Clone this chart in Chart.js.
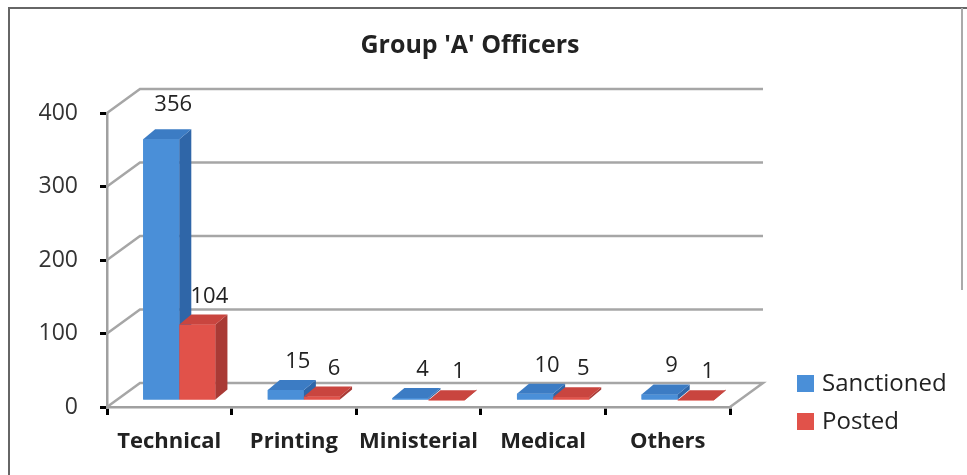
<!DOCTYPE html>
<html>
<head>
<meta charset="utf-8">
<script src="https://cdn.jsdelivr.net/npm/chart.js@4.4.0/dist/chart.umd.min.js"></script>
<style>
  html, body { margin: 0; padding: 0; background: #fff; }
  #wrap { width: 967px; height: 475px; }
</style>
</head>
<body>
<div id="wrap"><canvas id="myChart" width="967" height="475"></canvas></div>
<script>
const ctx = document.getElementById('myChart').getContext('2d')

const categories = ['Technical', 'Printing', 'Ministerial', 'Medical', 'Others']
const sanctioned = [356, 15, 4, 10, 9]
const posted = [104, 6, 1, 5, 1]
const yTicks = [0, 100, 200, 300, 400]

// colours: front, side, top
const blue = ['#4a8fd8', '#2f66a8', '#3c7cc4']
const red = ['#e1524a', '#a93a35', '#c9453f']

// 3d depth of the walls and of the bars
const wall = { dx: 33, dy: -24 }
const bar = { dx: 12, dy: -10, shiftX: 10, shiftY: -6 }

const FONT = '"Open Sans", "Liberation Sans", sans-serif'

const frame3d = {
    id: 'frame3d',
    beforeDraw(chart) {
        const c = chart.ctx
        c.save()
        c.fillStyle = '#fff'
        c.fillRect(0, 0, chart.width, chart.height)
        c.strokeStyle = '#666'
        c.lineWidth = 2
        c.beginPath()
        c.moveTo(9, chart.height)
        c.lineTo(9, 8)
        c.lineTo(chart.width, 8)
        c.stroke()
        c.strokeStyle = '#aaa'
        c.beginPath()
        c.moveTo(962, 8)
        c.lineTo(962, 290)
        c.stroke()
        c.restore()
    },
    beforeDatasetsDraw(chart) {
        const c = chart.ctx
        const { left, right } = chart.chartArea
        const y = chart.scales.y
        c.save()
        c.strokeStyle = '#a6a6a6'
        c.lineWidth = 2.5
        yTicks.forEach(v => {
            const py = y.getPixelForValue(v)
            c.beginPath()
            c.moveTo(left, py)
            c.lineTo(left + wall.dx, py + wall.dy)
            c.lineTo(right + wall.dx, py + wall.dy)
            if (v === 0) c.lineTo(right, py)
            c.stroke()
        })
        c.restore()
        // bars sit a little inside the floor
        c.save()
        c.translate(bar.shiftX, bar.shiftY)
    },
    afterDatasetsDraw(chart) {
        const c = chart.ctx
        const metas = [chart.getDatasetMeta(0), chart.getDatasetMeta(1)]
        const cols = [blue, red]
        for (let i = 0; i < categories.length; i++) {
            metas.forEach((meta, d) => {
                const el = meta.data[i]
                const p = el.getProps(['x', 'y', 'base', 'width'], true)
                const L = p.x - p.width / 2
                const R = p.x + p.width / 2
                el.draw(c)
                // side face
                c.fillStyle = cols[d][1]
                c.beginPath()
                c.moveTo(R, p.y)
                c.lineTo(R + bar.dx, p.y + bar.dy)
                c.lineTo(R + bar.dx, p.base + bar.dy)
                c.lineTo(R, p.base)
                c.closePath()
                c.fill()
                // top face
                c.fillStyle = cols[d][2]
                c.beginPath()
                c.moveTo(L, p.y)
                c.lineTo(L + bar.dx, p.y + bar.dy)
                c.lineTo(R + bar.dx, p.y + bar.dy)
                c.lineTo(R, p.y)
                c.closePath()
                c.fill()
            })
        }
        // value labels
        c.fillStyle = '#222'
        c.font = '22px ' + FONT
        c.textAlign = 'center'
        c.textBaseline = 'alphabetic'
        metas.forEach((meta, d) => {
            const values = chart.data.datasets[d].data
            meta.data.forEach((el, i) => {
                const lift = values[i] > 200 ? 28 : 22
                c.fillText(String(values[i]), el.x + 12, el.y - lift)
            })
        })
        c.restore()
    },
    afterDraw(chart) {
        const c = chart.ctx
        c.save()
        c.font = '24px ' + FONT
        c.textAlign = 'left'
        c.textBaseline = 'middle'
        chart.data.datasets.forEach((ds, d) => {
            const top = 375 + d * 38
            c.fillStyle = ds.backgroundColor
            c.fillRect(797, top, 17, 17)
            c.fillStyle = '#222'
            c.fillText(ds.label, 822, top + 9)
        })
        c.restore()
    }
}

const data = {
    labels: categories,
    datasets: [
        {
            label: 'Sanctioned',
            data: sanctioned,
            backgroundColor: blue[0],
            borderWidth: 0,
        },
        {
            label: 'Posted',
            data: posted,
            backgroundColor: red[0],
            borderWidth: 0,
        },
    ],
}

const config = {
    type: 'bar',
    data: data,
    options: {
        responsive: false,
        animation: false,
        categoryPercentage: 0.58,
        barPercentage: 1,
        layout: {
            padding: { left: 0, right: 27, top: 0, bottom: 18 }
        },
        plugins: {
            legend: { display: false },
            tooltip: { enabled: false },
            title: {
                display: true,
                text: "Group 'A' Officers",
                color: '#222',
                font: { family: FONT, size: 25, weight: 'bold' },
                padding: { top: 31, bottom: 52 }
            }
        },
        scales: {
            x: {
                grid: {
                    display: true,
                    drawOnChartArea: false,
                    drawTicks: true,
                    tickLength: 8,
                    color: '#000',
                    lineWidth: 3,
                },
                border: { display: true, color: '#a0a0a0', width: 2.5 },
                ticks: {
                    color: '#222',
                    padding: 14,
                    maxRotation: 0,
                    minRotation: 0,
                    autoSkip: false,
                    font: { family: FONT, size: 22, weight: 'bold' }
                },
                afterFit: s => { s.height = 50 }
            },
            y: {
                min: 0,
                max: 400,
                ticks: {
                    stepSize: 100,
                    color: '#333',
                    padding: 22,
                    font: { family: FONT, size: 23 }
                },
                grid: {
                    display: true,
                    drawOnChartArea: false,
                    drawTicks: true,
                    tickLength: 7,
                    color: '#000',
                    lineWidth: 3,
                },
                border: { display: true, color: '#a0a0a0', width: 2.5 },
                afterFit: s => { s.width = 107 }
            },
            y2: {
                position: 'right',
                display: true,
                ticks: { display: false },
                grid: { display: false },
                border: { display: false },
                afterFit: s => { s.width = 210 }
            }
        }
    },
    plugins: [frame3d]
}

const myChart = new Chart(ctx, config)
</script>
</body>
</html>
